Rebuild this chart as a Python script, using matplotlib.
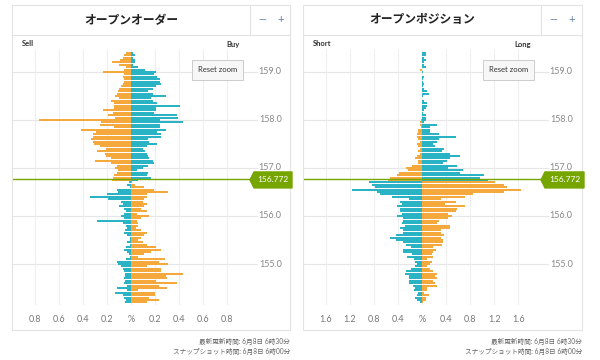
import numpy as np
import matplotlib
matplotlib.use("Agg")
import matplotlib.pyplot as plt
from matplotlib.patches import Rectangle, Polygon
from matplotlib.lines import Line2D

plt.rcParams['font.family'] = ['Lato', 'Noto Sans CJK JP', 'DejaVu Sans']

W, H = 600, 360
ORANGE = "#f5a83b"
TEAL = "#2ab3c5"
GREEN = "#76a500"
FRAME = "#e2e2e2"

# price buckets, top to bottom (0.05 yen step)
prices = np.round(np.arange(159.40, 154.17, -0.05), 2)
current_price = 156.772
price_ticks = [155.0, 156.0, 157.0, 158.0, 159.0]

# open orders: left side / right side, in %
orders_left = [
    0.04, 0.06, 0.07, 0.09, 0.16, 0.10, 0.04, 0.06, 0.23, 0.06,
    0.07, 0.06, 0.06, 0.07, 0.08, 0.10, 0.11, 0.12, 0.13, 0.10,
    0.17, 0.14, 0.14, 0.14, 0.23, 0.15, 0.19, 0.13, 0.77, 0.25,
    0.26, 0.14, 0.42, 0.29, 0.32, 0.32, 0.33, 0.32, 0.31, 0.26,
    0.21, 0.28, 0.22, 0.21, 0.17, 0.30, 0.17, 0.12, 0.13, 0.11,
    0.12, 0.14, 0.15, 0.16, 0.02, 0.03, 0.01, 0.12, 0.11, 0.20,
    0.34, 0.19, 0.08, 0.07, 0.10, 0.06, 0.04, 0.06, 0.08, 0.06,
    0.28, 0.07, 0.04, 0.03, 0.05, 0.06, 0.03, 0.01, 0.01, 0.03,
    0.01, 0.04, 0.06, 0.03, 0.02, 0.01, 0.04, 0.12, 0.11, 0.08,
    0.07, 0.06, 0.05, 0.05, 0.06, 0.05, 0.06, 0.03, 0.12, 0.03,
    0.13, 0.07, 0.06, 0.04, 0.05,
]
orders_right = [
    0.015, 0.03, 0.02, 0.03, 0.03, 0.02, 0.06, 0.12, 0.21, 0.19,
    0.22, 0.24, 0.24, 0.25, 0.21, 0.18, 0.14, 0.18, 0.29, 0.17,
    0.18, 0.22, 0.41, 0.21, 0.21, 0.19, 0.38, 0.39, 0.24, 0.43,
    0.24, 0.24, 0.29, 0.22, 0.25, 0.25, 0.14, 0.15, 0.22, 0.13,
    0.10, 0.12, 0.13, 0.14, 0.15, 0.18, 0.19, 0.14, 0.10, 0.05,
    0.14, 0.13, 0.17, 0.06, 0.01, 0.03, 0.11, 0.19, 0.31, 0.13,
    0.13, 0.11, 0.10, 0.13, 0.11, 0.08, 0.13, 0.05, 0.15, 0.08,
    0.05, 0.06, 0.06, 0.04, 0.08, 0.13, 0.11, 0.08, 0.06, 0.10,
    0.13, 0.21, 0.25, 0.17, 0.11, 0.06, 0.28, 0.23, 0.31, 0.13,
    0.25, 0.25, 0.43, 0.29, 0.30, 0.21, 0.38, 0.23, 0.30, 0.06,
    0.20, 0.20, 0.15, 0.23, 0.13,
]

# open positions: left side / right side, in %
positions_left = [
    0.0, 0.0, 0.0, 0.0, 0.0, 0.0, 0.0, 0.04, 0.0, 0.0,
    0.0, 0.0, 0.0, 0.0, 0.0, 0.0, 0.0, 0.0, 0.0, 0.0,
    0.0, 0.0, 0.0, 0.0, 0.0, 0.0, 0.0, 0.0, 0.02, 0.03,
    0.03, 0.02, 0.07, 0.06, 0.09, 0.08, 0.06, 0.04, 0.08, 0.06,
    0.03, 0.07, 0.04, 0.08, 0.11, 0.06, 0.07, 0.17, 0.26, 0.24,
    0.39, 0.42, 0.53, 0.56, 0.89, 0.83, 0.78, 1.17, 0.75, 0.70,
    0.50, 0.22, 0.36, 0.33, 0.41, 0.37, 0.37, 0.33, 0.42, 0.31,
    0.31, 0.33, 0.28, 0.36, 0.31, 0.32, 0.43, 0.54, 0.43, 0.31,
    0.26, 0.19, 0.32, 0.31, 0.17, 0.25, 0.14, 0.11, 0.08, 0.11,
    0.19, 0.26, 0.28, 0.21, 0.22, 0.21, 0.22, 0.15, 0.11, 0.14,
    0.07, 0.08, 0.11, 0.08, 0.03,
]
positions_right = [
    0.07, 0.07, 0.04, 0.07, 0.04, 0.03, 0.07, 0.0, 0.02, 0.0,
    0.03, 0.01, 0.02, 0.03, 0.01, 0.03, 0.09, 0.11, 0.02, 0.0,
    0.04, 0.08, 0.09, 0.07, 0.04, 0.02, 0.07, 0.06, 0.06, 0.04,
    0.25, 0.14, 0.13, 0.14, 0.29, 0.56, 0.28, 0.25, 0.19, 0.22,
    0.37, 0.33, 0.46, 0.64, 0.47, 0.42, 0.35, 0.58, 0.43, 0.69,
    0.63, 1.03, 0.97, 1.10, 1.22, 1.37, 1.42, 1.65, 1.36, 0.85,
    0.72, 0.31, 0.56, 0.39, 0.72, 0.58, 0.57, 0.44, 0.50, 0.44,
    0.28, 0.25, 0.46, 0.47, 0.31, 0.31, 0.36, 0.32, 0.35, 0.35,
    0.33, 0.19, 0.24, 0.19, 0.17, 0.19, 0.08, 0.17, 0.14, 0.09,
    0.14, 0.19, 0.25, 0.22, 0.25, 0.19, 0.22, 0.25, 0.09, 0.08,
    0.04, 0.11, 0.06, 0.07, 0.02,
]

footer = ["最新更新時間: 6月8日 6時30分", "スナップショット時間: 6月8日 6時00分"]


def fx(x):
    return x / W


def fy(y):
    return 1 - y / H


def fig_line(fig, x0, y0, x1, y1, color=FRAME, lw=0.8):
    fig.add_artist(Line2D([fx(x0), fx(x1)], [fy(y0), fy(y1)], color=color, lw=lw))


def draw_panel(fig, x0, x1, sep, title, left_lbl, right_lbl, left_vals, right_vals, xmax, ticks):
    # frame, header band
    fig.add_artist(Rectangle((fx(x0), fy(330)), (x1 - x0) / W, 325 / H, transform=fig.transFigure,
                             fill=False, ec=FRAME, lw=0.8))
    fig_line(fig, x0, 35, x1, 35)
    fig_line(fig, sep, 5, sep, 35)
    fig.text(fx((x0 + sep) / 2), fy(20), title, ha="center", va="center", fontsize=8.5,
             fontweight="bold", color="#222222")
    fig.text(fx(sep + 12), fy(19.5), "—", ha="center", va="center", fontsize=7, color="#5b7fa6")
    fig.text(fx(sep + 31), fy(20), "+", ha="center", va="center", fontsize=8, color="#5b7fa6")
    fig.text(fx(x0 + 10), fy(44), left_lbl, ha="left", va="center", fontsize=5.5,
             fontweight="bold", color="#333333")
    fig.text(fx(sep - 10), fy(44), right_lbl, ha="right", va="center", fontsize=5.5,
             fontweight="bold", color="#333333")

    ax = fig.add_axes([fx(x0), fy(305), (sep - x0) / W, 255 / H])
    above = prices + 0.025 > current_price
    left = np.array(left_vals)
    right = np.array(right_vals)
    left_colors = np.where(above, ORANGE, TEAL)
    right_colors = np.where(above, TEAL, ORANGE)
    ax.barh(prices, -left, height=0.04, color=left_colors, zorder=3)
    ax.barh(prices, right, height=0.04, color=right_colors, zorder=3)

    ax.set_xlim(-xmax, xmax)
    ax.set_ylim(154.146, 159.458)
    ax.set_xticks(ticks)
    ax.set_xticklabels(["%" if t == 0 else f"{abs(t):.1f}" for t in ticks])
    ax.tick_params(axis="x", length=0, pad=7, labelsize=6.5, labelcolor="#777777")
    ax.set_yticks([])
    ax.grid(axis="x", color="#eeeeee", lw=0.8, zorder=0)
    for s in ax.spines.values():
        s.set_visible(False)

    ytrans = ax.get_yaxis_transform()
    for p in price_ticks:
        ax.axhline(p, xmin=0, xmax=1.03, color="#e6e6e6", lw=0.8, zorder=1, clip_on=False)
        ax.text(1.085, p, f"{p:.1f}", transform=ytrans, ha="center", va="center",
                fontsize=6.5, color="#888888")

    # current price line and tag
    ax.axhline(current_price, color=GREEN, lw=1.0, zorder=4)
    py = 120 - (current_price - 158.0) * 48 + 1
    tag = [(sep, py), (sep + 4, py - 8), (x1 + 2, py - 8), (x1 + 2, py + 8), (sep + 4, py + 8)]
    fig.add_artist(Polygon([(fx(a), fy(b)) for a, b in tag], closed=True, transform=fig.transFigure,
                           fc=GREEN, ec=GREEN))
    fig.text(fx((sep + 4 + x1 + 2) / 2), fy(py), f"{current_price:.3f}", ha="center", va="center",
             fontsize=6, color="white")

    # reset zoom button
    bx0, bx1 = sep - 58, sep - 7
    fig.add_artist(Rectangle((fx(bx0), fy(80)), (bx1 - bx0) / W, 20 / H, transform=fig.transFigure,
                             fc="#f7f7f7", ec="#cccccc", lw=0.7))
    fig.text(fx((bx0 + bx1) / 2), fy(70), "Reset zoom", ha="center", va="center", fontsize=5.5,
             color="#333333")

    fig.text(fx(x1), fy(341), footer[0], ha="right", va="center", fontsize=4.8, color="#666666")
    fig.text(fx(x1), fy(351), footer[1], ha="right", va="center", fontsize=4.8, color="#666666")
    return ax


fig = plt.figure(figsize=(6, 3.6), dpi=100)
fig.patch.set_facecolor("white")

draw_panel(fig, 12, 290, 250, "オープンオーダー", "Sell", "Buy", orders_left, orders_right,
           0.992, [-0.8, -0.6, -0.4, -0.2, 0, 0.2, 0.4, 0.6, 0.8])
draw_panel(fig, 303, 582, 541, "オープンポジション", "Short", "Long", positions_left, positions_right,
           1.98, [-1.6, -1.2, -0.8, -0.4, 0, 0.4, 0.8, 1.2, 1.6])

fig.savefig("out.png", dpi=100, facecolor="white")
